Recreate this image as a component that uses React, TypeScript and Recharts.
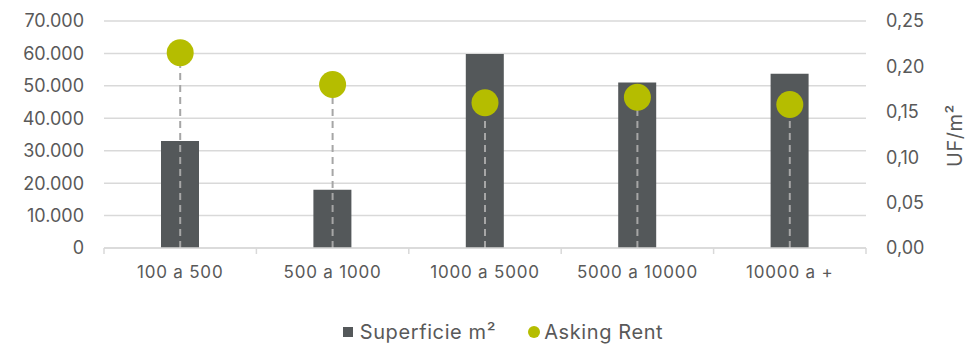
import { ComposedChart, Bar, Scatter, ErrorBar, XAxis, YAxis, CartesianGrid, Legend } from 'recharts';

const categories = ['100 a 500', '500 a 1000', '1000 a 5000', '5000 a 10000', '10000 a +'];
const superficie = [33000, 18000, 59800, 51000, 53700];
const askingRent = [0.215, 0.18, 0.16, 0.166, 0.158];
const leftTicks = [0, 10000, 20000, 30000, 40000, 50000, 60000, 70000];
const rightTicks = [0, 0.05, 0.1, 0.15, 0.2, 0.25];

const data = categories.map((name, i) => ({
  name,
  superficie: superficie[i],
  rent: askingRent[i],
  rentErr: [askingRent[i], 0],
}));

const FONT = 'Inter, "Noto Sans", sans-serif';
const TEXT = '#595959';
const BAR = '#54585a';
const DOT = '#b5bd00';

const fmtThousands = (v: number) => v.toLocaleString('de-DE');
const fmtRent = (v: number) => v.toFixed(2).replace('.', ',');

function XTick(props: any) {
  const { x, y, payload, index } = props;
  const band = 762 / categories.length;
  return (
    <g>
      <line x1={x - band / 2} x2={x - band / 2} y1={y - 8} y2={y - 2} stroke="#d9d9d9" strokeWidth={1.5} />
      {index === categories.length - 1 && (
        <line x1={x + band / 2} x2={x + band / 2} y1={y - 8} y2={y - 2} stroke="#d9d9d9" strokeWidth={1.5} />
      )}
      <text x={x} y={y + 22} textAnchor="middle" fill={TEXT} fontSize={17} letterSpacing={0.8} fontFamily={FONT}>
        {payload.value}
      </text>
    </g>
  );
}

function RightLabel(props: any) {
  const { viewBox } = props;
  const cx = viewBox.x + viewBox.width - 11;
  const cy = viewBox.y + viewBox.height / 2 + 1;
  return (
    <text x={cx} y={cy} transform={`rotate(-90 ${cx} ${cy})`} textAnchor="middle" dominantBaseline="central" fill={TEXT} fontSize={20} letterSpacing={0.5} fontFamily={FONT}>
      UF/m²
    </text>
  );
}

function LegendContent() {
  return (
    <div style={{ display: 'flex', justifyContent: 'center', alignItems: 'center', height: 26, fontFamily: FONT, fontSize: 20, letterSpacing: 0.6, color: TEXT, paddingLeft: 40 }}>
      <span style={{ display: 'inline-block', width: 10, height: 10, background: BAR, marginRight: 7 }} />
      <span style={{ marginRight: 32 }}>Superficie m²</span>
      <span style={{ display: 'inline-block', width: 12, height: 12, borderRadius: 6, background: DOT, marginRight: 4 }} />
      <span>Asking Rent</span>
    </div>
  );
}

export default function App() {
  return (
    <div style={{ position: 'absolute', left: 0, top: 0 }}>
      <ComposedChart width={966} height={345} data={data} margin={{ top: 21, right: 0, left: 0, bottom: 0 }}>
        <CartesianGrid vertical={false} stroke="#d9d9d9" strokeWidth={1.5} yAxisId="left" />
        <XAxis
          dataKey="name"
          height={71}
          tick={<XTick />}
          tickLine={false}
          axisLine={{ stroke: '#d9d9d9', strokeWidth: 1.5 }}
          interval={0}
        />
        <YAxis
          yAxisId="left"
          width={104}
          domain={[0, 70000]}
          ticks={leftTicks}
          tickFormatter={fmtThousands}
          axisLine={false}
          tickLine={false}
          tickSize={0}
          tickMargin={20}
          tick={{ fill: TEXT, fontSize: 18, fontFamily: FONT }}
        />
        <YAxis
          yAxisId="right"
          orientation="right"
          width={100}
          domain={[0, 0.25]}
          ticks={rightTicks}
          tickFormatter={fmtRent}
          axisLine={false}
          tickLine={false}
          tickSize={0}
          tickMargin={20}
          tick={{ fill: TEXT, fontSize: 18, fontFamily: FONT, textAnchor: 'start' }}
          label={<RightLabel />}
        />
        <Legend verticalAlign="bottom" content={<LegendContent />} />
        <Bar yAxisId="left" dataKey="superficie" name="Superficie m²" fill={BAR} barSize={38} isAnimationActive={false} />
        <Scatter
          yAxisId="right"
          dataKey="rent"
          name="Asking Rent"
          fill={DOT}
          isAnimationActive={false}
          shape={(p: any) => <circle cx={p.cx} cy={p.cy} r={13.5} fill={DOT} />}
        >
          <ErrorBar dataKey="rentErr" direction="y" width={0} stroke="#a6a6a6" strokeWidth={2} strokeDasharray="7 5" />
        </Scatter>
      </ComposedChart>
    </div>
  );
}
